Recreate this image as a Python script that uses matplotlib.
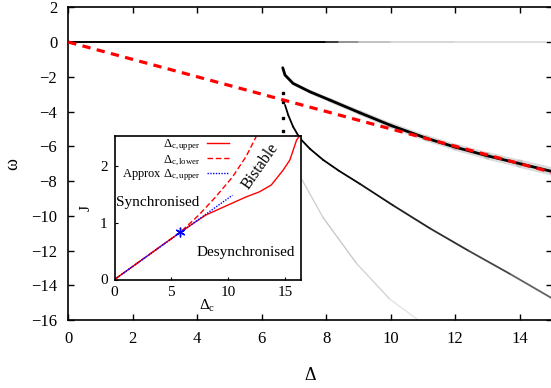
import numpy as np
import matplotlib
matplotlib.use("Agg")
import matplotlib.pyplot as plt
from matplotlib.collections import LineCollection

plt.rcParams['font.family'] = ['Liberation Serif', 'DejaVu Serif']
plt.rcParams['mathtext.fontset'] = 'custom'
plt.rcParams['mathtext.rm'] = 'Liberation Serif'
plt.rcParams['mathtext.it'] = 'Liberation Serif:italic'

# main panel data
zero_delta = [0, 8.0, 8.4, 9.0, 10.0, 12.0, 14.8]
zero_omega = [0, 0, 0, 0, 0, 0, 0]
zero_gray = [0.0, 0.0, 0.45, 0.7, 0.82, 0.86, 0.9]

red_delta = [0, 15]
red_omega = [0, -7.5]

upper_delta = [6.65, 6.72, 6.97, 7.49, 8.11, 9.04, 10.0, 11.11, 12.0, 13.0, 14.0, 15.0]
upper_omega = [-1.48, -1.9, -2.38, -2.86, -3.34, -4.07, -4.8, -5.54, -6.05, -6.55, -7.0, -7.45]

dots_delta = [6.65, 6.65, 6.65, 6.65]
dots_omega = [-2.95, -3.43, -4.39, -5.12]

lower_delta = [6.72, 6.82, 6.97, 7.18, 7.49, 7.9, 8.4, 9.04, 10.07, 11.21, 12.4, 13.7, 15.0]
lower_omega = [-3.62, -4.2, -4.87, -5.54, -6.14, -6.78, -7.42, -8.16, -9.4, -10.72, -12.0, -13.35, -14.75]
lower_gray = [0.0, 0.0, 0.0, 0.0, 0.0, 0.0, 0.0, 0.05, 0.1, 0.15, 0.22, 0.32, 0.45]

faint_delta = [7.24, 7.9, 8.94, 9.97, 10.85]
faint_omega = [-7.9, -10.1, -12.75, -14.8, -16.0]
faint_gray = [0.85, 0.78, 0.8, 0.86, 0.93]

# inset data
upper_dc = [0, 5.79, 8.02, 9.8, 11.59, 12.77, 13.81, 14.85, 15.45, 16.04, 16.3]
upper_j = [0, 0.83, 1.13, 1.29, 1.45, 1.54, 1.66, 1.92, 2.10, 2.45, 2.52]
lower_dc = [0, 5.79, 7.42, 8.91, 10.39, 11.59, 12.48]
lower_j = [0, 0.83, 1.13, 1.45, 1.80, 2.16, 2.51]
approx_dc = [0, 10.39]
approx_j = [0, 1.48]
star_dc = [5.79]
star_j = [0.83]


def gradient_line(ax, x, y, grays, lw, z=2, alpha=1.0):
    pts = np.column_stack([x, y])
    segs = np.stack([pts[:-1], pts[1:]], axis=1)
    g = np.array(grays)
    g = (g[:-1] + g[1:]) / 2
    cols = [(v, v, v, alpha) for v in g]
    lc = LineCollection(segs, colors=cols, linewidths=lw, capstyle='round', zorder=z)
    ax.add_collection(lc)


fig = plt.figure(figsize=(5.51, 3.88), dpi=100)
ax = fig.add_axes([68.3 / 551, 68 / 388, (552 - 68.3) / 551, (320 - 7.3) / 388])

gradient_line(ax, zero_delta, zero_omega, zero_gray, 1.4)
# soft halo around the upper branch, growing to the right
halo_w = np.linspace(1.5, 6, len(upper_delta) - 1)
pts = np.column_stack([upper_delta, upper_omega])
ax.add_collection(LineCollection(np.stack([pts[:-1], pts[1:]], axis=1), colors=[(0.6, 0.6, 0.6, 0.35)],
                                 linewidths=halo_w, capstyle='round', zorder=2))
ax.plot(upper_delta, upper_omega, color='black', lw=2.0, zorder=3, solid_capstyle='round')
ax.plot(dots_delta, dots_omega, 's', color='black', ms=1.8, zorder=3)
gradient_line(ax, lower_delta, lower_omega, lower_gray, 1.3)
gradient_line(ax, faint_delta, faint_omega, faint_gray, 1.0)
ax.plot(red_delta, red_omega, color='red', lw=2.3, dashes=(2.6, 2.0), zorder=4)

ax.set_xlim(0, 15)
ax.set_ylim(-16, 2)
ax.set_xticks(np.arange(0, 15, 2))
ax.set_yticks(np.arange(-16, 3, 2))
ax.tick_params(direction='in', top=True, right=True, length=4, width=1, labelsize=12, pad=8)
for s in ax.spines.values():
    s.set_linewidth(1.2)
ax.set_xlabel('Δ', fontsize=13, labelpad=14)
ax.set_ylabel('ω', fontsize=13, labelpad=7)

# inset
ins = fig.add_axes([114.5 / 551, (388 - 279.5) / 388, (300.7 - 114.5) / 551, (279.5 - 136) / 388])
ins.set_zorder(5)
ins.plot(upper_dc, upper_j, color='red', lw=1.0, label=r'$\Delta_{\mathrm{c,upper}}$')
ins.plot(lower_dc, lower_j, color='red', lw=1.0, dashes=(4, 2), label=r'$\Delta_{\mathrm{c,lower}}$')
ins.plot(approx_dc, approx_j, color='blue', lw=1.0, ls=(0, (1, 1)), label=r'Approx $\Delta_{\mathrm{c,upper}}$')
ins.plot(star_dc, star_j, marker=(6, 2, 0), color='blue', ms=7, mew=1.0, ls='none')
ins.set_xlim(0, 16.4)
ins.set_ylim(0, 2.52)
ins.set_xticks([0, 5, 10, 15])
ins.set_yticks([0, 1, 2])
ins.tick_params(direction='in', length=2, labelsize=11, pad=5)
for s in ins.spines.values():
    s.set_linewidth(1.2)
ins.set_xlabel(r'$\Delta_{\mathrm{c}}$', fontsize=11, labelpad=-1)
ins.set_ylabel('J', fontsize=11, labelpad=5)
ins.text(0.1, 1.36, 'Synchronised', fontsize=11, va='center', ha='left')
ins.text(11.6, 0.48, 'Desynchronised', fontsize=11, va='center', ha='center')
ins.text(12.8, 1.98, 'Bistable', fontsize=11.5, va='center', ha='center', rotation=55)
ins.legend(loc='upper left', bbox_to_anchor=(0.0, 1.04), frameon=False, fontsize=9,
           markerfirst=False, handlelength=1.8, handletextpad=0.5, labelspacing=0.0,
           borderaxespad=0.2, alignment='right')
leg = ins.get_legend()
for t in leg.get_texts():
    t.set_ha('right')

fig.savefig('out.png', dpi=100)
